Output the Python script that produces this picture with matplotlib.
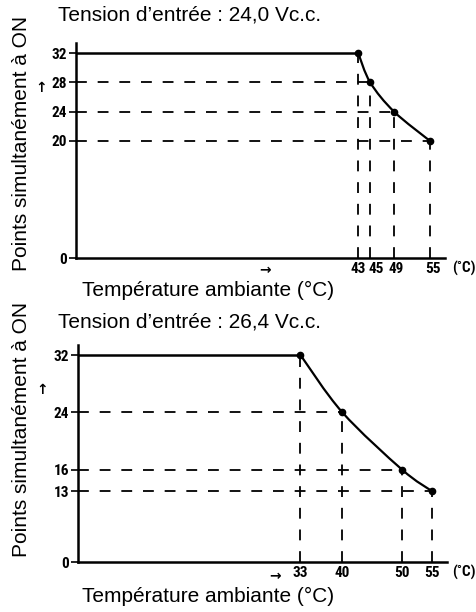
import numpy as np
import matplotlib
matplotlib.use('Agg')
import matplotlib.pyplot as plt
from matplotlib.path import Path
from matplotlib.patches import PathPatch
from matplotlib import font_manager as fm
from matplotlib.transforms import ScaledTranslation

# ---- data ----
temp_a = [43, 45, 49, 55]
points_a = [32, 28, 24, 20]
temp_b = [33, 40, 50, 55]
points_b = [32, 24, 16, 13]
titles = ["Tension d’entrée : 24,0 Vc.c.", "Tension d’entrée : 26,4 Vc.c."]
ylabel = "Points simultanément à ON"
xlabel = "Température ambiante (°C)"
unit = "(˚C)"

W, H = 476, 612
fig = plt.figure(figsize=(W / 100, H / 100), dpi=100)
FONT = "Liberation Sans"

installed = {f.name for f in fm.fontManager.ttflist}
narrow_candidates = ["Roboto Condensed", "Liberation Sans Narrow", "Archivo Narrow",
                     "PT Sans Narrow", "Fira Sans Condensed", "IBM Plex Sans Condensed",
                     "Open Sans Condensed", "Encode Sans Condensed", "Barlow Condensed"]
NARROW_NAME = next((n for n in narrow_candidates if n in installed), None)
if NARROW_NAME:
    NARROW = dict(family=[NARROW_NAME, "DejaVu Sans"], fontsize=11, fontweight='bold')
else:
    NARROW = dict(family=["Liberation Sans", "DejaVu Sans"], fontsize=8.5, fontweight='bold')


def make_scale(b, f):
    def fwd(y):
        y = np.asarray(y, dtype=float)
        return np.where(y < b, y * f, b * f + (y - b))

    def inv(u):
        u = np.asarray(u, dtype=float)
        return np.where(u < b * f, u / f, u - b * f + b)
    return fwd, inv


def smooth_path(xs, ys):
    """Catmull-Rom spline through the data points, as a cubic Bezier path."""
    P = np.column_stack([xs, ys]).astype(float)
    Pext = np.vstack([P[0], P, P[-1]])
    verts = [P[0]]
    codes = [Path.MOVETO]
    for i in range(1, len(Pext) - 2):
        p0, p1, p2, p3 = Pext[i - 1], Pext[i], Pext[i + 1], Pext[i + 2]
        verts += [p1 + (p2 - p0) / 6, p2 - (p3 - p1) / 6, p2]
        codes += [Path.CURVE4] * 3
    return Path(verts, codes)


def draw(rect, temps, pts, brk, fac, title, tpos, ylab_c, xlab_y, up_arrow, right_arrow,
         label_shift):
    ax = fig.add_axes(rect)
    ax.set_xlim(-4.2, 57.5)
    ax.set_yscale('function', functions=make_scale(brk, fac))
    ax.set_ylim(0, 33.4)
    for s in ['top', 'right']:
        ax.spines[s].set_visible(False)
    for s in ['left', 'bottom']:
        ax.spines[s].set_linewidth(1.8)
    x0 = ax.get_xlim()[0]
    # solid plateau + derating curve
    ax.hlines(pts[0], x0, temps[0], color='black', lw=1.8)
    ax.add_patch(PathPatch(smooth_path(temps, pts), facecolor='none',
                           edgecolor='black', lw=1.6))
    ax.plot(temps, pts, linestyle='none', color='black', marker='o', ms=4.5)
    # dashed guides
    for t, p in zip(temps, pts):
        ax.vlines(t, 0, p, color='black', lw=1.3, linestyles=(0, (6, 6)))
        if p != pts[0]:
            ax.hlines(p, x0, t, color='black', lw=1.3, linestyles=(0, (6, 6)))
    yt = [0] + sorted(pts)
    ax.set_yticks(yt)
    ax.set_yticklabels([str(v) for v in yt], **NARROW)
    ax.set_xticks(temps)
    ax.set_xticklabels([str(v) for v in temps], **NARROW)
    ax.tick_params(axis='y', length=5, width=1.2, pad=1.5)
    ax.tick_params(axis='x', length=0, pad=3)
    for lbl, dx in zip(ax.get_xticklabels(), label_shift):
        if dx:
            lbl.set_transform(lbl.get_transform() +
                              ScaledTranslation(dx / 100, 0, fig.dpi_scale_trans))
    fig.text(58 / W, 1 - tpos / H, title, fontsize=15, family=FONT, va='center', ha='left')
    fig.text(22 / W, 1 - ylab_c / H, ylabel, fontsize=15, family=FONT,
             rotation=90, va='center', ha='center')
    fig.text(82 / W, 1 - xlab_y / H, xlabel, fontsize=15, family=FONT, va='center', ha='left')
    fig.text(up_arrow[0] / W, 1 - up_arrow[1] / H, "↑", fontsize=10,
             fontweight='bold', va='center', ha='center')
    fig.text(right_arrow[0] / W, 1 - right_arrow[1] / H, "→", fontsize=10,
             fontweight='bold', va='center', ha='center')
    fig.text(452 / W, rect[1] - 10 / H, unit, va='center', ha='left', **NARROW)
    return ax


draw([76 / W, 1 - 258 / H, 369 / W, 215 / H], temp_a, points_a, 20, 0.80,
     titles[0], 15, 143, 290, (41, 88), (265, 270), [0, 6, 2, 3])
draw([78 / W, 1 - 562 / H, 369 / W, 217 / H], temp_b, points_b, 13, 0.76,
     titles[1], 322, 429, 596, (42, 390), (275, 576), [0, 0, 0, 0])

fig.savefig('out.png', dpi=100)
